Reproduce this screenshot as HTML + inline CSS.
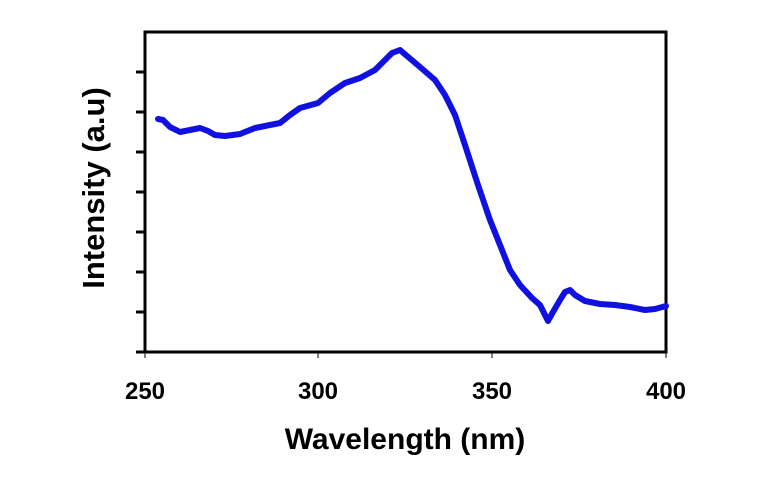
<!DOCTYPE html>
<html><head><style>body{margin:0;background:#fff}</style></head><body>
<svg width="760" height="478" xmlns="http://www.w3.org/2000/svg">
<rect x="145" y="32" width="521" height="320" fill="none" stroke="#000" stroke-width="3"/>
<g stroke="#000" stroke-width="3">
<line x1="136" y1="352" x2="145" y2="352"/>
<line x1="136" y1="72" x2="145" y2="72"/><line x1="136" y1="112" x2="145" y2="112"/>
<line x1="136" y1="152" x2="145" y2="152"/><line x1="136" y1="192" x2="145" y2="192"/>
<line x1="136" y1="232" x2="145" y2="232"/><line x1="136" y1="272" x2="145" y2="272"/>
<line x1="136" y1="312" x2="145" y2="312"/>
</g>
<g stroke="#000" stroke-width="1">
<line x1="145" y1="352" x2="145" y2="358"/><line x1="318" y1="352" x2="318" y2="358"/>
<line x1="492" y1="352" x2="492" y2="358"/><line x1="666" y1="352" x2="666" y2="358"/>
</g>
<polyline fill="none" stroke="#1010e0" stroke-width="6" stroke-linejoin="round" stroke-linecap="round" points="158,119 163,120 170,127 180,132 190,130 200,128 208,131 215,135 225,136 240,134 255,128 270,125 280,123 290,115 300,108 318,103 330,93 345,83 360,78 375,70 385,60 392,53 400,50 407,56 420,67 435,80 445,95 455,115 465,145 478,185 490,220 500,245 510,270 520,285 532,298 540,305 548,321 553,312 560,300 565,292 570,290 575,295 585,301 600,304 615,305 630,307 645,310 655,309 666,306"/>
<g font-family="Liberation Sans, sans-serif" font-weight="bold" font-size="24" text-anchor="middle">
<text x="145" y="399">250</text><text x="318" y="399">300</text>
<text x="492" y="399">350</text><text x="666" y="399">400</text>
<text x="405" y="449" font-size="30">Wavelength (nm)</text>
<text transform="translate(104,188) rotate(-90)" font-size="31">Intensity (a.u)</text>
</g>
</svg>
</body></html>
